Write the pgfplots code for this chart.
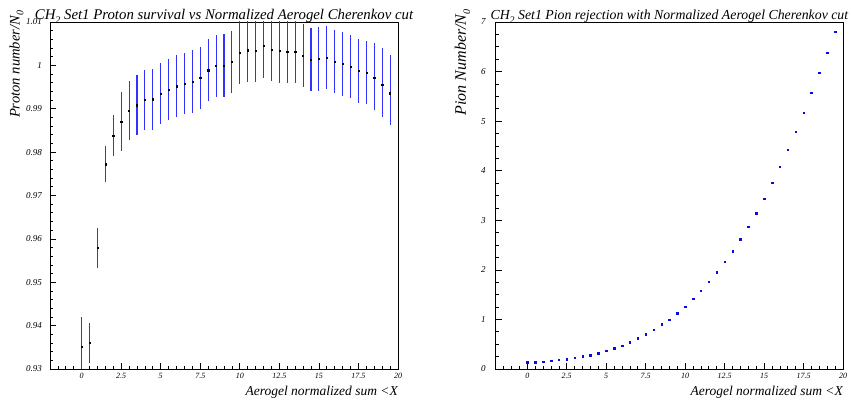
\documentclass[border=0pt]{standalone}
\usepackage{fontspec}
\setmainfont{Liberation Serif}
\usepackage{pgfplots}
\usepackage{pgfplotstable}
\pgfplotsset{compat=1.18}
\definecolor{barblue}{RGB}{50,50,255}
\definecolor{ptblue}{RGB}{10,10,220}
\newcommand{\sub}[2]{\raisebox{-0.55ex}{\fontsize{#2}{#2}\selectfont #1}}

\pgfplotstableread{
x y ep em
0 0.9351 0.0069 0.0069
0.5 0.9360 0.0046 0.0046
1 0.9579 0.0046 0.0046
1.5 0.9772 0.0042 0.0042
2 0.9838 0.0047 0.0047
2.5 0.9871 0.0068 0.0068
3 0.9895 0.0068 0.0068
3.5 0.9908 0.0069 0.0069
4 0.9920 0.0069 0.0069
4.5 0.9922 0.0070 0.0070
5 0.9935 0.0070 0.0070
5.5 0.9944 0.0071 0.0071
6 0.9952 0.0071 0.0071
6.5 0.9958 0.0071 0.0071
7 0.9963 0.0072 0.0072
7.5 0.9971 0.0072 0.0072
8 0.9989 0.0072 0.0072
8.5 0.9999 0.0072 0.0072
9 1.0000 0.0072 0.0072
9.5 1.0008 0.0072 0.0072
10 1.0029 0.0073 0.0073
10.5 1.0035 0.0073 0.0073
11 1.0034 0.0073 0.0073
11.5 1.0045 0.0073 0.0073
12 1.0037 0.0073 0.0073
12.5 1.0033 0.0073 0.0073
13 1.0032 0.0073 0.0073
13.5 1.0032 0.0073 0.0073
14 1.0022 0.0073 0.0073
14.5 1.0013 0.0073 0.0073
15 1.0015 0.0073 0.0073
15.5 1.0018 0.0073 0.0073
16 1.0009 0.0073 0.0073
16.5 1.0003 0.0073 0.0073
17 0.9997 0.0073 0.0073
17.5 0.9987 0.0073 0.0073
18 0.9983 0.0073 0.0073
18.5 0.9971 0.0080 0.0075
19 0.9955 0.0085 0.0075
19.5 0.9936 0.0088 0.0073
}\protontab

\pgfplotstableread{
x y
0 0.134
0.5 0.134
1 0.148
1.5 0.168
2 0.188
2.5 0.201
3 0.228
3.5 0.255
4 0.282
4.5 0.322
5 0.369
5.5 0.416
6 0.469
6.5 0.537
7 0.617
7.5 0.698
8 0.791
8.5 0.899
9 0.999
9.5 1.127
10 1.254
10.5 1.415
11 1.583
11.5 1.764
12 1.952
12.5 2.160
13 2.374
13.5 2.616
14 2.871
14.5 3.142
15 3.440
15.5 3.758
16 4.080
16.5 4.423
17 4.786
17.5 5.169
18 5.569
18.5 5.980
19 6.383
19.5 6.806
}\piontab

\pgfplotsset{
  rootstyle/.style={
    scale only axis,
    anchor=south west,
    axis line style={draw=black, line width=0.8pt},
    tick align=inside,
    xtick pos=bottom,
    ytick pos=left,
    major tick length=6pt,
    minor tick length=3pt,
    every tick/.style={draw=black, line width=0.7pt},
    xmin=-2, xmax=20,
    xtick={0,2.5,5,7.5,10,12.5,15,17.5,20},
    xticklabels={0,2.5,5,7.5,10,12.5,15,17.5,20},
    minor xtick={-1.5,-1,...,19.5},
    /pgf/number format/assume math mode=true,
    xticklabel style={anchor=north, inner sep=0pt, yshift=-4pt,
      font=\fontsize{8}{9}\selectfont\itshape},
    yticklabel style={font=\fontsize{9}{10}\selectfont\itshape},
    every axis x label/.style={at={(axis description cs:1,0)}, anchor=east,
      yshift=-23pt, inner sep=0pt, font=\fontsize{13.5}{14}\selectfont\itshape},
    clip=true,
  }
}

\begin{document}
\begin{tikzpicture}
\begin{axis}[rootstyle,
  at={(50pt,35pt)}, width=348pt, height=347pt,
  ymin=0.93, ymax=1.01,
  ytick={0.93,0.94,0.95,0.96,0.97,0.98,0.99,1,1.01},
  yticklabels={0.93,0.94,0.95,0.96,0.97,0.98,0.99,1,1.01},
  minor y tick num=4,
  yticklabel style={anchor=east, inner sep=0pt, xshift=-8pt},
  every axis title/.style={at={(axis description cs:0.5,1)}, anchor=base, yshift=2pt,
      font=\fontsize{14.8}{15}\selectfont\itshape, inner sep=0pt},
  title={CH\sub{2}{10} Set1 Proton survival vs Normalized Aerogel Cherenkov cut},
  xlabel={Aerogel normalized sum <X},
  every axis y label/.style={at={(axis description cs:-0.0963,1.0326)}, rotate=90,
    anchor=east, inner sep=0pt, font=\fontsize{14.6}{15}\selectfont\itshape},
  ylabel={Proton number/N\sub{0}{10}},
]
\addplot[draw=none, mark=none,
  error bars/.cd, y dir=both, y explicit, error mark=none,
  error bar style={draw=barblue, line width=1.1pt}]
  table[x=x, y=y, y error plus=ep, y error minus=em] {\protontab};
\addplot[only marks, mark=square*, mark size=0.6pt,
  mark options={draw=black, fill=black}]
  table[x=x, y=y] {\protontab};
\end{axis}

\begin{axis}[rootstyle,
  at={(495.7pt,35pt)}, width=347.3pt, height=347pt,
  ymin=0, ymax=7,
  ytick={0,1,2,3,4,5,6,7},
  yticklabels={0,1,2,3,4,5,6,7},
  minor y tick num=3,
  yticklabel style={anchor=east, inner sep=0pt, xshift=-10pt},
  every axis title/.style={at={(axis description cs:0.5,1)}, anchor=base, yshift=2pt,
      font=\fontsize{13.8}{14}\selectfont\itshape, inner sep=0pt},
  title={CH\sub{2}{10} Set1 Pion rejection with Normalized Aerogel Cherenkov cut},
  xlabel={Aerogel normalized sum <X},
  every axis y label/.style={at={(axis description cs:-0.0956,1.0366)}, rotate=90,
    anchor=east, inner sep=0pt, font=\fontsize{16}{16}\selectfont\itshape},
  ylabel={Pion Number/N\sub{0}{10}},
]
\addplot[only marks, mark=square*, mark size=0.75pt,
  mark options={draw=ptblue, fill=ptblue}]
  table[x=x, y=y] {\piontab};
\end{axis}
\pgfresetboundingbox
\useasboundingbox (0,0) rectangle (851pt,404pt);
\end{tikzpicture}
\end{document}
